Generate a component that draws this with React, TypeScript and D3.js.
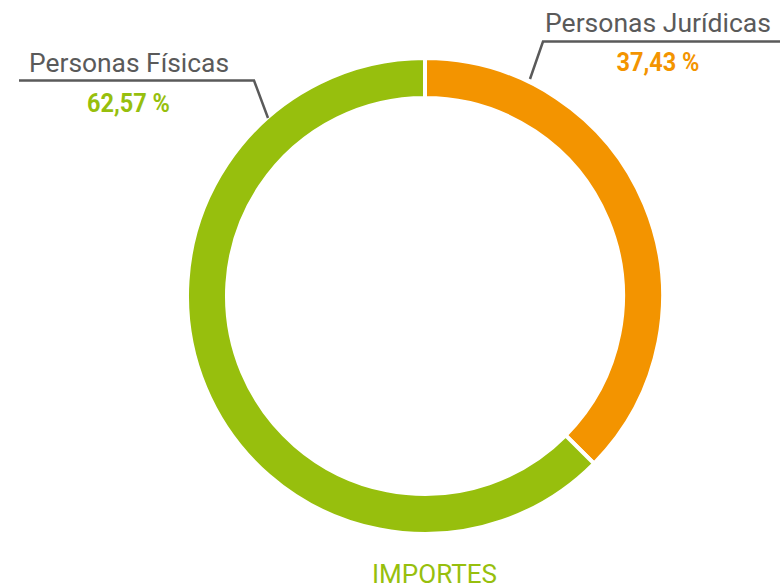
import React from "react";
import * as d3 from "d3";

const categories = ["Personas Jurídicas", "Personas Físicas"];
const values = [37.43, 62.57];
const valueLabels = ["37,43 %", "62,57 %"];
const colors = ["#f39400", "#97bf0d"];
const title = "IMPORTES";

const W = 783;
const H = 587;
const cx = 425;
const cy = 296;
const outerR = 238;
const innerR = 198;

export default function App() {
  const pie = d3.pie<number>().sort(null).value((d) => d);
  const arcs = pie(values);
  const arc = d3.arc<d3.PieArcDatum<number>>().innerRadius(innerR).outerRadius(outerR);
  const gray = "#5a5a5a";
  const font = "Roboto, 'Noto Sans', sans-serif";
  return (
    <svg width={W} height={H} style={{ position: "absolute", left: 0, top: 0 }}>
      <rect width={W} height={H} fill="#fff" />
      <g transform={`translate(${cx},${cy})`}>
        {arcs.map((a, i) => (
          <path key={i} d={arc(a) || ""} fill={colors[i]} stroke="#fff" strokeWidth={4} />
        ))}
      </g>
      {/* Right label: Personas Jurídicas */}
      <polyline points="530,79 543,41.5 780,41.5" fill="none" stroke={gray} strokeWidth={2.5} />
      <text x={658} y={32} textAnchor="middle" fontFamily={font} fontSize={26} fill={gray} textLength={226} lengthAdjust="spacingAndGlyphs">
        {categories[0]}
      </text>
      <text x={658} y={71} textAnchor="middle" fontFamily={font} fontWeight={700} fontSize={25} fill={colors[0]} textLength={83} lengthAdjust="spacingAndGlyphs">
        {valueLabels[0]}
      </text>
      {/* Left label: Personas Físicas */}
      <polyline points="19,80.5 254,80.5 268,118" fill="none" stroke={gray} strokeWidth={2.5} />
      <text x={129} y={72} textAnchor="middle" fontFamily={font} fontSize={26} fill={gray} textLength={200} lengthAdjust="spacingAndGlyphs">
        {categories[1]}
      </text>
      <text x={128.5} y={112} textAnchor="middle" fontFamily={font} fontWeight={700} fontSize={25} fill={colors[1]} textLength={83} lengthAdjust="spacingAndGlyphs">
        {valueLabels[1]}
      </text>
      <text x={434.5} y={583} textAnchor="middle" fontFamily={font} fontSize={26} fill={colors[1]} textLength={125} lengthAdjust="spacingAndGlyphs">
        {title}
      </text>
    </svg>
  );
}
